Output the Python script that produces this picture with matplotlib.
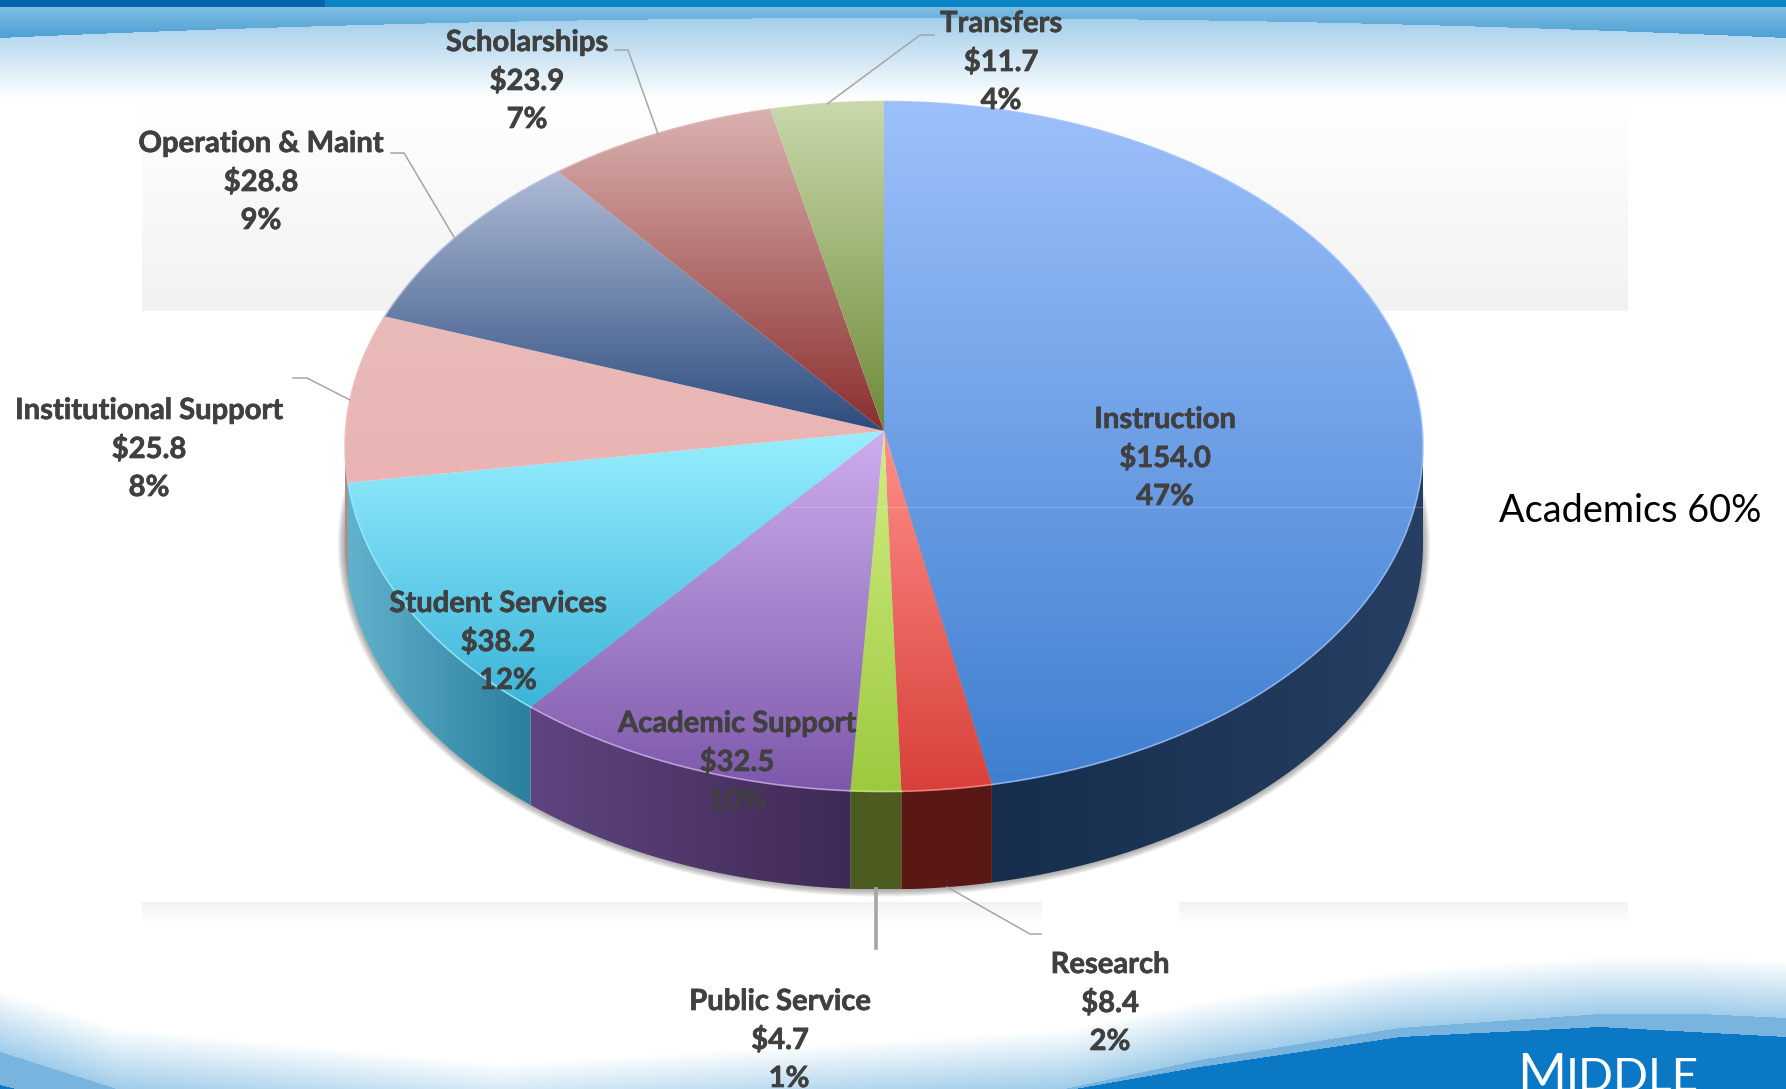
import numpy as np
import matplotlib
matplotlib.use("Agg")
import matplotlib.pyplot as plt
import matplotlib.patheffects as pe
from matplotlib.colors import to_rgb
from matplotlib.patches import Polygon


# ========================================
# DATA
# ========================================
categories = ["Instruction", "Research", "Public Service", "Academic Support",
              "Student Services", "Institutional Support", "Operation & Maint",
              "Scholarships", "Transfers"]
values = [154.0, 8.4, 4.7, 32.5, 38.2, 25.8, 28.8, 23.9, 11.7]
percents = [47, 2, 1, 10, 12, 8, 9, 7, 4]
side_note = "Academics 60%"

# gradient colours, top face (top, bottom) and side (left, right)
face_colors = [("#9DC0FB", "#3F7FD0"), ("#FF8F8A", "#D8403A"), ("#D2EE85", "#9DC93F"),
               ("#CDAEEE", "#7D58AA"), ("#98EFFF", "#3BB4D9"), ("#EABBB9", "#E9B4B3"),
               ("#AEBBD6", "#2C4C7E"), ("#DAB2B0", "#8A2E2E"), ("#C9D9AC", "#6E8A38")]
side_colors = [("#162E4C", "#263F63"), ("#5A1815", "#5A1815"), ("#4C5C20", "#4C5C20"),
               ("#5F4480", "#3F2A55"), ("#62B2CC", "#2A7F9C"), ("#A89090", "#A89090"),
               ("#2C4C7E", "#2C4C7E"), ("#8A2E2E", "#8A2E2E"), ("#6E8A38", "#6E8A38")]

# label centres in pixels: x, y of the first line
label_pos = [(1165, 420), (1110, 965), (780, 1002), (737, 724), (498, 604),
             (149, 411), (261, 144), (527, 43), (1001, 24)]
pct_shift = [0, 0, 9, 0, 10, 0, 0, 0, 0]
line_gap = 38.5

# leader lines
leaders = [((1041, 934), (1030, 934), (947, 887)),
           ((293, 378), (307, 378), (350, 400)),
           ((391, 153), (404, 153), (454, 237)),
           ((615, 50), (628, 50), (658, 134)),
           ((934, 35), (920, 35), (827, 104))]

# pie geometry in pixels
W, H = 1786, 1089
cx, cy = 884, 446.5
apex_y = 431
rx, ry = 539, 345
depth = 98
perspective = 3.0


# ========================================
# FIGURE
# ========================================
fig = plt.figure(figsize=(W / 100, H / 100), dpi=100)
ax = fig.add_axes([0, 0, 1, 1])
ax.set_axis_off()


def rgba_layer(mask, color, z):
    img = np.zeros(mask.shape + (4,))
    img[..., :3] = to_rgb(color)
    img[..., 3] = np.clip(mask, 0, 1)
    ax.imshow(img, extent=(0, W, H, 0), aspect="auto", zorder=z, interpolation="bilinear")


def gradient_fill(points, c0, c1, horizontal=False, z=5):
    pts = np.array(points)
    x0, x1 = pts[:, 0].min(), pts[:, 0].max()
    y0, y1 = pts[:, 1].min(), pts[:, 1].max()
    t = np.linspace(0, 1, 256)[:, None]
    grad = (1 - t) * np.array(to_rgb(c0)) + t * np.array(to_rgb(c1))
    grad = grad[None, :, :] if horizontal else grad[:, None, :]
    im = ax.imshow(grad, extent=(x0, x1, y1, y0), aspect="auto", zorder=z,
                   interpolation="bilinear")
    patch = Polygon(pts, closed=True, transform=ax.transData, fill=False, lw=0)
    ax.add_patch(patch)
    im.set_clip_path(patch)


# ========================================
# BACKGROUND
# ========================================
xx, yy = np.meshgrid(np.arange(W) + 0.5, np.arange(H) + 0.5)

# top swoosh
arc = 18 + 20 * ((xx[0] - 893) / 893) ** 2
arc_y = arc[None, :]
rgba_layer((100 - yy) / (100 - 18) * 0.58, "#5FAADB", 1)
top_t = np.clip((yy - 7) / 33, 0, 1)[..., None]
top_img = np.zeros((H, W, 4))
top_img[..., :3] = (1 - top_t) * np.array(to_rgb("#7FBEE2")) + top_t * np.array(to_rgb("#4A9DD3"))
top_img[..., 3] = yy < arc_y
ax.imshow(top_img, extent=(0, W, H, 0), aspect="auto", zorder=1.1)
rgba_layer(yy < 7, "#0A84C6", 1.2)
rgba_layer((yy < 7) & (xx < 325), "#0566AE", 1.3)

# bottom swoosh
fade_y = np.interp(xx[0], [0, 117, 500, 1065, 1200, 1400, 1600, 1700, 1786],
                   [1052, 1089, 1125, 1089, 1060, 1028, 1014, 1014, 1018])[None, :]
dark_y = np.interp(xx[0], [0, 40, 400, 1075, 1200, 1400, 1600, 1786],
                   [1085, 1095, 1150, 1089, 1067, 1037, 1027, 1037])[None, :]
fade_h = np.interp(xx[0], [0, 500, 1065, 1400, 1786], [62, 62, 60, 58, 58])[None, :]
rgba_layer((yy - (fade_y - fade_h)) / fade_h * 0.6, "#5FAADB", 1)
rgba_layer(yy >= fade_y, "#78B4DE", 1.1)
rgba_layer(yy >= dark_y, "#0A78C4", 1.2)

# pale grey plot wall
gradient_fill([(142, 100), (1628, 100), (1628, 311), (142, 311)], "#FFFFFF", "#F2F2F2", z=2)
gradient_fill([(142, 902), (1042, 902), (1042, 923), (142, 923)], "#F2F2F2", "#FFFFFF", z=2)
gradient_fill([(1179, 902), (1628, 902), (1628, 923), (1179, 923)], "#F2F2F2", "#FFFFFF", z=2)


# ========================================
# PIE
# ========================================
def rim(theta):
    rad = np.radians(theta)
    return np.column_stack([cx + rx * np.sin(rad), cy - ry * np.cos(rad)])


total = sum(values)
edges = np.concatenate([[0], np.cumsum(values)]) / total * 360
# slight foreshortening of the tilted pie
edges = edges - perspective * np.sin(np.radians(edges))

# soft shadow under the side wall
th = np.linspace(80, 280, 200)
for grow in range(1, 8):
    rad = np.radians(th)
    shadow = np.column_stack([cx + (rx + grow) * np.sin(rad),
                              cy + depth + (ry + grow) * -np.cos(rad)])
    ax.add_patch(Polygon(shadow, closed=True, color="#606060", alpha=0.09, lw=0, zorder=3))

for i in range(len(values)):
    a0, a1 = edges[i], edges[i + 1]

    # side wall, only the front half shows
    s0, s1 = max(a0, 90), min(a1, 270)
    if s1 > s0:
        arc_pts = rim(np.linspace(s0, s1, 120))
        lower = arc_pts[::-1] + np.array([0, depth])
        gradient_fill(np.vstack([arc_pts, lower]), side_colors[i][0], side_colors[i][1],
                      horizontal=True, z=4)

    # top face
    arc_pts = rim(np.linspace(a0, a1, 200))
    face = np.vstack([[(cx, apex_y)], arc_pts])
    gradient_fill(face, face_colors[i][0], face_colors[i][1], z=5)
    ax.plot(arc_pts[:, 0], arc_pts[:, 1], color=face_colors[i][0], lw=1.2, alpha=0.8, zorder=5.5)

# faint seam across the big slice
ax.plot([790, 1423], [507, 507], color="white", lw=0.8, alpha=0.2, zorder=6)


# ========================================
# LABELS AND LEADERS
# ========================================
for pts in leaders:
    ax.plot([p[0] for p in pts], [p[1] for p in pts], color="#A6A6A6", lw=1.1, zorder=6)
ax.plot([876, 876], [889, 948], color="#A6A6A6", lw=2.6, zorder=6)

plt.rcParams["font.family"] = ["Lato", "DejaVu Sans"]
fatten = [pe.withStroke(linewidth=0.5, foreground="#404040")]
for i, name in enumerate(categories):
    x, y = label_pos[i]
    style = dict(ha="center", va="center", fontsize=21, fontweight="bold", color="#404040",
                 zorder=7, path_effects=fatten)
    ax.text(x, y, name, **style)
    ax.text(x, y + line_gap, f"${values[i]:.1f}", **style)
    ax.text(x + pct_shift[i], y + 2 * line_gap, f"{percents[i]}%", **style)

ax.text(1630, 511, side_note, ha="center", va="center", fontsize=27.3, color="black", zorder=7)

# logo text
ax.text(1517, 1091, "M", ha="left", va="baseline", fontsize=38, color="white", zorder=7)
ax.text(1566, 1091, "IDDLE", ha="left", va="baseline", fontsize=33, color="white", zorder=7)

ax.set_xlim(0, W)
ax.set_ylim(H, 0)

fig.savefig("out.png", dpi=100)
